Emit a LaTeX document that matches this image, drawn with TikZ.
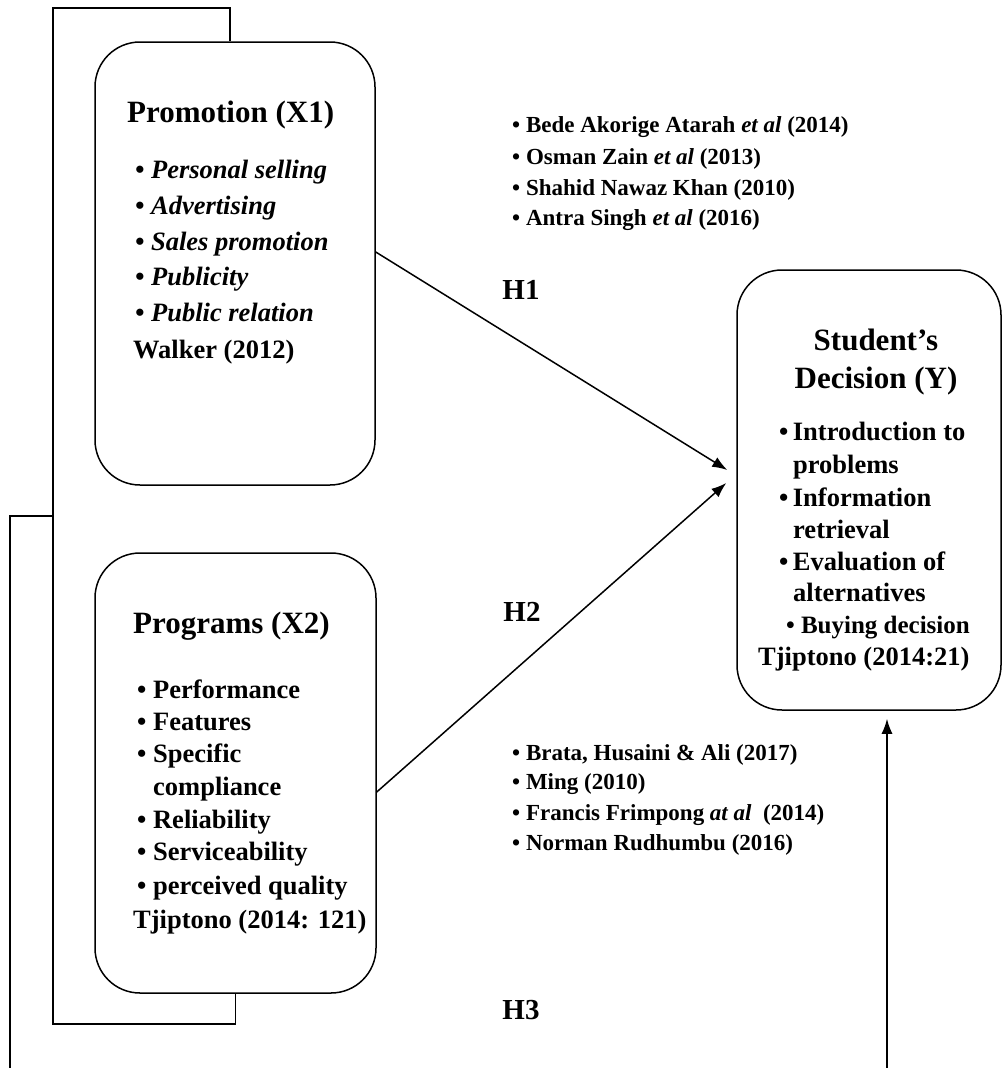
\documentclass[tikz,border=0pt]{standalone}
\usepackage{fontspec}
\setmainfont{Liberation Serif}
\usetikzlibrary{arrows.meta}

\tikzset{
  box/.style={draw, rounded corners=45pt, line width=1.5pt},
  wire/.style={line width=1.5pt},
  link/.style={line width=1.5pt, -{Latex[length=15pt,width=11pt]}},
  ttl/.style={font=\fontsize{31}{36}\selectfont\bfseries, inner sep=0, anchor=base west},
  item/.style={font=\fontsize{26.5}{32}\selectfont\bfseries, inner sep=0, anchor=base west},
  ref/.style={font=\fontsize{23}{27}\selectfont\bfseries, inner sep=0, anchor=base west},
  hyp/.style={font=\fontsize{29}{34}\selectfont\bfseries, inner sep=0},
}

\begin{document}
\begin{tikzpicture}[x=1pt, y=-1pt]
			\useasboundingbox (0,0) rectangle (1004,1068);
			%%%%% BOXES %%%%%
			\node[box, minimum width=280pt, minimum height=443pt] (promo) at (235,263.5) {};
			\node[box, minimum width=281pt, minimum height=440pt] (progs) at (235.5,773) {};
			\node[box, minimum width=264pt, minimum height=440pt] (decision) at (869,490) {};
			
			%%%%% PROMOTION %%%%%
			\node[ttl] (promottl) at (127,122) {Promotion (X1)};
			\foreach \txt [count=\i from 0] in {Personal selling, Advertising, Sales promotion, Publicity, Public relation}
				\node[item, font=\fontsize{26.5}{32}\selectfont\bfseries\itshape] (pr\i) at (135,{178.5+35.75*\i}) {\textbullet\ \txt};
			\node[item] (promosrc) at (133,358.5) {Walker (2012)};
			
			%%%%% PROGRAMS %%%%%
			\node[ttl] (progsttl) at (133,633) {Programs (X2)};
			\node[item] (pg0) at (137,698.5) {\textbullet\ Performance};
			\node[item] (pg1) at (137,730.5) {\textbullet\ Features};
			\node[item] (pg2) at (137,762.5) {\textbullet\ Specific};
			\node[item] (pg3) at (153,795.5) {compliance};
			\node[item] (pg4) at (137,828.5) {\textbullet\ Reliability};
			\node[item] (pg5) at (137,860.5) {\textbullet\ Serviceability};
			\node[item] (pg6) at (137,894.5) {\textbullet\ perceived quality};
			\node[item] (progssrc) at (133,928.5) {Tjiptono (2014: 121)};
			
			%%%%% DECISION %%%%%
			\node[ttl, anchor=base] (dttl1) at (876,350) {Student’s};
			\node[ttl, anchor=base] (dttl2) at (876,388) {Decision (Y)};
			\node[item] (dc0) at (779,440.5) {\textbullet\,Introduction to};
			\node[item] (dc1) at (793,473.5) {problems};
			\node[item] (dc2) at (779,506.5) {\textbullet\,Information};
			\node[item] (dc3) at (793,538.5) {retrieval};
			\node[item] (dc4) at (779,570.5) {\textbullet\,Evaluation of};
			\node[item] (dc5) at (793,601.5) {alternatives};
			\node[item, anchor=base east, font=\fontsize{25}{32}\selectfont\bfseries] (dc6) at (970,633.5) {\textbullet\ Buying decision};
			\node[item] (decisionsrc) at (758,665.5) {Tjiptono (2014:21)};
			
			%%%%% REFERENCES %%%%%
			\node[ref] (ra0) at (512,132) {\textbullet\ Bede Akorige Atarah \textit{et al} (2014)};
			\node[ref] (ra1) at (512,164) {\textbullet\ Osman Zain \textit{et al} (2013)};
			\node[ref] (ra2) at (512,195) {\textbullet\ Shahid Nawaz Khan (2010)};
			\node[ref] (ra3) at (512,225) {\textbullet\ Antra Singh \textit{et al} (2016)};
			
			\node[ref] (rb0) at (512,760) {\textbullet\ Brata, Husaini \& Ali (2017)};
			\node[ref] (rb1) at (512,789) {\textbullet\ Ming (2010)};
			\node[ref] (rb2) at (512,820) {\textbullet\ Francis Frimpong \textit{at al}~ (2014)};
			\node[ref] (rb3) at (512,850) {\textbullet\ Norman Rudhumbu (2016)};
			
			%%%%% HYPOTHESES %%%%%
			\node[hyp] (h1) at (521,290) {H1};
			\node[hyp] (h2) at (522,612) {H2};
			\node[hyp] (h3) at (521,1010) {H3};
			
			\draw[link] ([yshift=11.5pt]promo.east) -- ([xshift=-9pt,yshift=20pt]decision.west);
			\draw[link] ([yshift=-19pt]progs.east) -- ([xshift=-10pt,yshift=7pt]decision.west);
			
			\coordinate (h3foot) at (887,1068);
			\draw[link, shorten >=8pt] (h3foot) -- (h3foot |- decision.south);
			
			%%%%% BRACKETS %%%%%
			\coordinate (topbar) at (53,8);
			\coordinate (lowbar) at (53,1024);
			\draw[wire] ([xshift=-5pt]promo.north) |- (topbar) -- (lowbar) -| (progs.south);
			
			\coordinate (outtop) at (10,516);
			\coordinate (outfoot) at (10,1068);
			\draw[wire] (lowbar |- outtop) -- (outtop) -- (outfoot);
		\end{tikzpicture}
\end{document}
